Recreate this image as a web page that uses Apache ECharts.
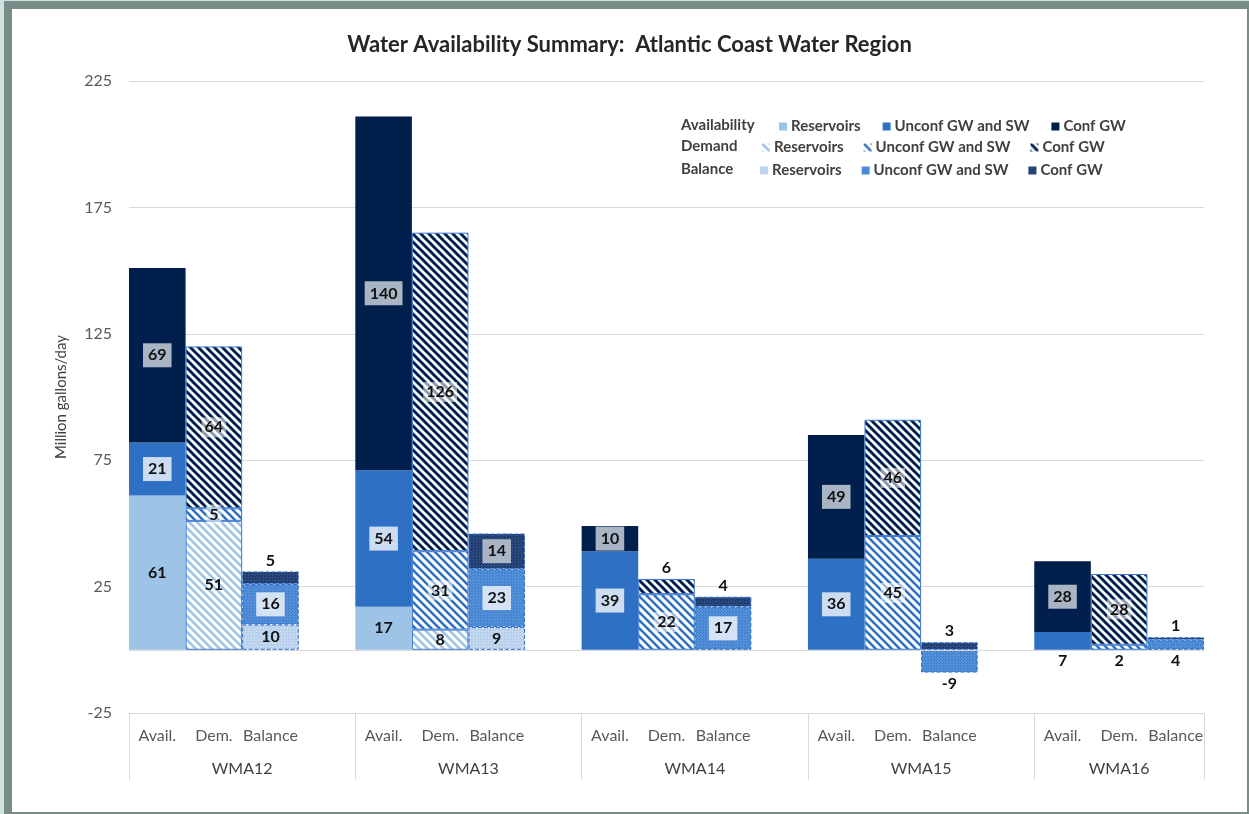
<!DOCTYPE html>
<html>
<head>
<meta charset="utf-8">
<script src="https://cdn.jsdelivr.net/npm/echarts@6/dist/echarts.min.js"></script>
<style>
  html, body { margin: 0; padding: 0; width: 1249px; height: 814px; overflow: hidden; background: #cfe2e0; }
  #frame { position: absolute; left: 4px; top: 1px; width: 1245px; height: 813px; background: #7a8c88; }
  #chart { position: absolute; left: 12px; top: 9px; width: 1235px; height: 803px; background: #ffffff; }
</style>
</head>
<body>
<div id="frame"></div>
<div id="chart"></div>
<script>
// ---- data ----
const groups = ['WMA12', 'WMA13', 'WMA14', 'WMA15', 'WMA16'];
const barTypes = ['Avail.', 'Dem.', 'Balance'];
const sources = ['Reservoirs', 'Unconf GW and SW', 'Conf GW'];
const yTicks = [-25, 225, 50]; // min, max, step

const availReservoirs = [61, 17, 0, 0, 0];
const availUnconf     = [21, 54, 39, 36, 7];
const availConf       = [69, 140, 10, 49, 28];
const demReservoirs   = [51, 8, 0, 0, 0];
const demUnconf       = [5, 31, 22, 45, 2];
const demConf         = [64, 126, 6, 46, 28];
const balReservoirs   = [10, 9, 0, 0, 0];
const balUnconf       = [16, 23, 17, -9, 4];
const balConf         = [5, 14, 4, 3, 1];

// ---- category slots (a blank spacer slot after each group but the last) ----
const categories = [];
const groupBounds = [];
const groupCenters = [];
groups.forEach((g, gi) => {
  groupBounds.push(categories.length);
  barTypes.forEach(t => categories.push(t));
  if (gi < groups.length - 1) categories.push('');
  const end = categories.length;
  groupCenters.push((groupBounds[gi] + end) / 2);
});
groupBounds.push(categories.length);

// ---- patterns ----
function stripePattern(fg, bg, size, lw) {
  const c = document.createElement('canvas');
  c.width = size; c.height = size;
  const ctx = c.getContext('2d');
  ctx.fillStyle = bg; ctx.fillRect(0, 0, size, size);
  ctx.strokeStyle = fg; ctx.lineWidth = lw;
  for (let k = -1; k <= 1; k++) {
    ctx.beginPath();
    ctx.moveTo(k * size - 1, -1);
    ctx.lineTo(k * size + size + 1, size + 1);
    ctx.stroke();
  }
  return { image: c, repeat: 'repeat' };
}
function dotPattern(base, dot) {
  const c = document.createElement('canvas');
  c.width = 3; c.height = 3;
  const ctx = c.getContext('2d');
  ctx.fillStyle = base; ctx.fillRect(0, 0, 3, 3);
  ctx.fillStyle = dot; ctx.fillRect(0, 0, 1, 1); ctx.fillRect(1, 2, 1, 1);
  return { image: c, repeat: 'repeat' };
}

const C_RES = '#9dc3e6', C_UNC = '#2e70c4', C_CONF = '#001f4d';

const FONT = 'Lato, "Open Sans", sans-serif';
const boxGray = '#a9b5c4';
const boxLight = '#ccdcf1';

function place(values, typeIdx, overrides) {
  const arr = new Array(categories.length).fill(null);
  values.forEach((v, gi) => {
    if (v === 0) return;
    const idx = groupBounds[gi] + typeIdx;
    if (overrides && overrides[gi]) {
      arr[idx] = {
        value: v,
        label: { position: overrides[gi], backgroundColor: 'transparent', padding: 0, distance: 3 }
      };
    } else {
      arr[idx] = v;
    }
  });
  return arr;
}

function makeLabel(bg, pad) {
  return {
    show: true,
    position: 'inside',
    color: '#111111',
    fontFamily: FONT,
    fontWeight: 'bold',
    fontSize: 16,
    backgroundColor: bg || 'transparent',
    padding: pad || 0
  };
}

const demBorder = { borderColor: '#3a78d0', borderWidth: 1 };
const balBorder = { borderColor: '#2f6ecb', borderWidth: 1, borderType: 'dashed' };

const seriesDefs = [
  { name: 'Availability Reservoirs', legend: 0, type: 0, values: availReservoirs, color: C_RES, label: makeLabel(null) },
  { name: 'Availability Unconf GW and SW', legend: 0, type: 0, values: availUnconf, color: C_UNC, label: makeLabel(boxLight, [4, 5]), ov: { 4: 'bottom' } },
  { name: 'Availability Conf GW', legend: 0, type: 0, values: availConf, color: C_CONF, label: makeLabel(boxGray, [4, 5]) },
  { name: 'Demand Reservoirs', legend: 1, type: 1, values: demReservoirs, color: stripePattern(C_RES, '#ffffff', 8, 2.6), border: demBorder, label: makeLabel(null) },
  { name: 'Demand Unconf GW and SW', legend: 1, type: 1, values: demUnconf, color: stripePattern(C_UNC, '#ffffff', 8, 2.6), border: demBorder, label: makeLabel('rgba(255,255,255,0.55)', [2, 3]), ov: { 4: 'bottom' } },
  { name: 'Demand Conf GW', legend: 1, type: 1, values: demConf, color: stripePattern(C_CONF, '#ffffff', 8, 3), border: demBorder, label: makeLabel('rgba(255,255,255,0.55)', [2, 3]), ov: { 2: 'top' } },
  { name: 'Balance Reservoirs', legend: 2, type: 2, values: balReservoirs, color: dotPattern('#c4d9f0', '#a8c5e8'), border: balBorder, label: makeLabel(null) },
  { name: 'Balance Unconf GW and SW', legend: 2, type: 2, values: balUnconf, color: dotPattern('#5290da', '#3c78c6'), border: balBorder, label: makeLabel('#d3e2f5', [4, 5]), ov: { 3: 'bottom', 4: 'bottom' } },
  { name: 'Balance Conf GW', legend: 2, type: 2, values: balConf, color: dotPattern('#2a4a80', '#142c58'), border: balBorder, label: makeLabel(boxGray, [4, 5]), ov: { 0: 'top', 2: 'top', 3: 'top', 4: 'top' } }
];

const series = seriesDefs.map((d, i) => {
  const s = {
    name: d.name,
    type: 'bar',
    stack: 'all',
    xAxisIndex: 0,
    barCategoryGap: '0%',
    data: place(d.values, d.type, d.ov),
    itemStyle: Object.assign({ color: d.color }, d.border || {}),
    label: d.label,
    emphasis: { disabled: true }
  };
  if (i === 0) {
    s.markLine = {
      silent: true, symbol: 'none', label: { show: false },
      lineStyle: { color: '#d9d9d9', type: 'solid', width: 1 },
      data: [{ yAxis: 0 }]
    };
  }
  return s;
});

const legendHeads = ['Availability', 'Demand', 'Balance'];
const legendLeft = [767, 750, 748];
const legendGap = [22, 20, 20];
const legendTop = [110, 131, 154];
const headStyle = { fontFamily: FONT, fontSize: 15, fontWeight: 'bold', color: '#404040' };

const legends = legendHeads.map((h, li) => ({
  left: legendLeft[li],
  top: legendTop[li],
  orient: 'horizontal',
  padding: 0,
  itemWidth: 8,
  itemHeight: 8,
  itemGap: legendGap[li],
  icon: 'rect',
  selectedMode: false,
  itemStyle: { borderWidth: 0 },
  data: seriesDefs.filter(d => d.legend === li).map(d => d.name),
  formatter: name => name.replace(/^(Availability|Demand|Balance) /, ''),
  textStyle: Object.assign({ padding: [0, 0, 0, -1] }, headStyle)
}));

const titles = [{
  text: 'Water Availability Summary:  Atlantic Coast Water Region',
  left: 'center',
  top: 25,
  padding: 0,
  textStyle: { fontFamily: FONT, fontSize: 22, fontWeight: 'bold', color: '#262626' }
}].concat(legendHeads.map((h, li) => ({
  text: h,
  left: 669,
  top: legendTop[li] - 1,
  padding: 0,
  textStyle: headStyle
})));

const chart = echarts.init(document.getElementById('chart'), null, { renderer: 'canvas' });
chart.setOption({
  animation: false,
  backgroundColor: '#ffffff',
  title: titles,
  legend: legends,
  grid: { left: 117, right: 43, top: 72, bottom: 99, containLabel: false },
  xAxis: [
    {
      type: 'category',
      data: categories,
      position: 'bottom',
      axisLine: { show: true, onZero: false, lineStyle: { color: '#d9d9d9', width: 1 } },
      axisTick: { show: false },
      axisLabel: { interval: 0, color: '#595959', fontFamily: FONT, fontSize: 16, margin: 15 },
      splitLine: { show: false }
    },
    {
      type: 'value',
      min: 0,
      max: categories.length,
      position: 'bottom',
      axisLine: { show: false, onZero: false },
      splitLine: { show: false },
      axisTick: { show: true, inside: false, length: 67, lineStyle: { color: '#d9d9d9', width: 1 }, customValues: groupBounds },
      axisLabel: {
        customValues: groupCenters,
        formatter: v => { const i = groupCenters.indexOf(v); return i >= 0 ? groups[i] : ''; },
        color: '#404040', fontFamily: FONT, fontSize: 16, margin: 48
      }
    }
  ],
  yAxis: {
    type: 'value',
    min: yTicks[0],
    max: yTicks[1],
    interval: yTicks[2],
    name: 'Million gallons/day',
    nameLocation: 'middle',
    nameGap: 60,
    nameTextStyle: { fontFamily: FONT, fontSize: 15, color: '#404040' },
    axisLine: { show: false },
    axisTick: { show: false },
    axisLabel: { color: '#595959', fontFamily: FONT, fontSize: 16, margin: 17 },
    splitLine: { show: true, lineStyle: { color: '#d9d9d9', width: 1 } }
  },
  series: series
});
</script>
</body>
</html>
